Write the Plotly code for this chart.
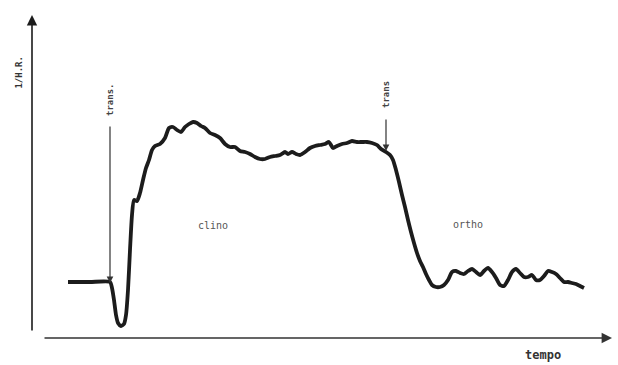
import plotly.graph_objects as go

# time (arbitrary units) and 1/H.R. (arbitrary units)
time = [36, 58, 78, 80, 82, 84, 86, 89, 92, 94, 96, 98, 100, 102, 105, 108, 111, 114, 117, 120,
        123, 128, 133, 137, 141, 145, 149, 153, 157, 161, 165, 169, 173, 178, 183, 188, 193, 198,
        203, 208, 213, 218, 223, 228, 233, 238, 243, 248, 253, 256, 260, 264, 268, 273, 278, 283,
        288, 293, 297, 301, 305, 310, 315, 320, 325, 330, 335, 340, 345, 349, 354, 358, 361, 364,
        367, 370, 373, 376, 379, 382, 385, 388, 391, 394, 397, 400, 404, 408, 412, 416, 420, 424,
        428, 432, 436, 440, 444, 448, 452, 456, 460, 464, 468, 472, 476, 480, 484, 488, 492, 496,
        500, 504, 508, 512, 516, 520, 524, 528, 532, 536, 540, 544, 548, 552]
inv_hr = [59, 59, 59, 53, 41, 26, 18, 15, 17, 26, 51, 91, 126, 141, 140, 148, 161, 173, 181, 191,
          195, 197, 203, 213, 214, 211, 209, 214, 217, 219, 218, 215, 213, 208, 206, 203, 197, 194,
          194, 190, 189, 187, 184, 182, 182, 184, 185, 186, 189, 187, 189, 187, 186, 189, 193, 195,
          196, 197, 199, 193, 195, 197, 198, 200, 199, 199, 199, 198, 196, 192, 189, 186, 181, 171,
          159, 146, 134, 121, 109, 98, 88, 80, 74, 67, 61, 56, 54, 54, 56, 61, 69, 70,
          68, 67, 70, 72, 69, 66, 70, 73, 69, 63, 56, 55, 61, 69, 72, 68, 64, 64,
          66, 61, 61, 65, 70, 69, 67, 63, 59, 59, 58, 57, 55, 53]

# transition markers: (time, arrow head value, arrow tail value, label, label value)
trans_time = [78, 354]
trans_head = [58, 190]
trans_tail = [216, 223]
trans_label = ["trans.", "trans"]
trans_label_y = [241, 246]

phase_labels = ["clino", "ortho"]
phase_time = [181, 436]
phase_y = [116, 117]

y_title = "1/H.R."
x_title = "tempo"

ink = "#1c1c1c"

fig = go.Figure()
fig.add_trace(go.Scatter(x=time, y=inv_hr, mode="lines",
                         line=dict(color=ink, width=3.8, shape="spline", smoothing=0.6),
                         hoverinfo="skip", showlegend=False))

ann = []
# y axis arrow
ann.append(dict(x=0, y=326, ax=0, ay=9, xref="x", yref="y", axref="x", ayref="y",
                showarrow=True, arrowhead=2, arrowsize=1.3, arrowwidth=1.6, arrowcolor=ink, text=""))
# x axis arrow
ann.append(dict(x=580, y=3, ax=11, ay=3, xref="x", yref="y", axref="x", ayref="y",
                showarrow=True, arrowhead=2, arrowsize=1.3, arrowwidth=1.6, arrowcolor="#333", text=""))
# axis titles (paper coordinates, outside the plotting area)
ann.append(dict(x=-0.0225, y=0.79, xref="paper", yref="paper", text="<b>" + y_title + "</b>",
                textangle=-90, showarrow=False, xanchor="center", yanchor="middle",
                font=dict(family="DejaVu Sans Mono", size=9, color="#333")))
ann.append(dict(x=0.884, y=-0.042, xref="paper", yref="paper", text="<b>" + x_title + "</b>",
                showarrow=False, xanchor="center", yanchor="middle",
                font=dict(family="DejaVu Sans Mono", size=12, color="#333")))
# transition arrows and labels
for t, h, tl, lab, ly in zip(trans_time, trans_head, trans_tail, trans_label, trans_label_y):
    ann.append(dict(x=t, y=h, ax=t, ay=tl, xref="x", yref="y", axref="x", ayref="y",
                    showarrow=True, arrowhead=2, arrowsize=1.1, arrowwidth=1.2, arrowcolor="#333", text=""))
    ann.append(dict(x=t, y=ly, xref="x", yref="y", text="<b>" + lab + "</b>", textangle=-90,
                    showarrow=False, font=dict(family="DejaVu Sans Mono", size=9, color="#444")))
# phase labels
for lab, t, v in zip(phase_labels, phase_time, phase_y):
    ann.append(dict(x=t, y=v, xref="x", yref="y", text=lab, showarrow=False,
                    font=dict(family="DejaVu Sans Mono", size=10, color="#555")))

fig.update_layout(
    width=618, height=365,
    margin=dict(l=32, r=8, t=0, b=24),
    paper_bgcolor="white", plot_bgcolor="white",
    xaxis=dict(range=[0, 578], visible=False, fixedrange=True),
    yaxis=dict(range=[0, 341], visible=False, fixedrange=True),
    annotations=ann,
    showlegend=False,
)

fig.write_html("out.html")
